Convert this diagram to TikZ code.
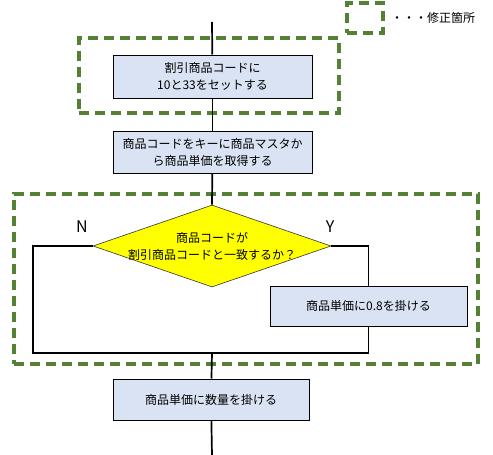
\documentclass[tikz,border=0pt]{standalone}
\usepackage{fontspec}
\setmainfont{Noto Sans CJK JP}
\usetikzlibrary{positioning,shapes.geometric}
\definecolor{procfill}{HTML}{DAE3F3}
\definecolor{fixgreen}{HTML}{548235}
\definecolor{decfill}{HTML}{FFFF00}
\tikzset{
  procbox/.style={
    draw=black,
    fill=procfill,
    line width=1pt,
    align=center,
    minimum width=199pt,
    minimum height=43pt,
    inner sep=2pt,
    font=\fontsize{12}{17}\selectfont
  },
  decbox/.style={
    diamond,
    draw=black!80,
    fill=decfill,
    line width=0.6pt,
    minimum width=238pt,
    minimum height=82pt,
    inner sep=0pt
  },
  dectext/.style={align=center, inner sep=0pt, font=\fontsize{12}{17}\selectfont},
  fixframe/.style={
    draw=fixgreen,
    line width=3.2pt,
    dash pattern=on 10pt off 6pt
  },
  flowline/.style={line width=1.7pt, draw=black},
  branchlabel/.style={font=\fontsize{16}{18}\selectfont}
}
\begin{document}
\begin{tikzpicture}[x=1pt, y=1pt]
  \useasboundingbox (0,0) rectangle (493,-455);
  % legend
  \node[fixframe, minimum width=36pt, minimum height=30pt] (legendbox) at (365,-18) {};
  \node[anchor=west, inner sep=0pt, font=\fontsize{12}{14}\selectfont] (legendtext) at (391,-18) {・・・修正箇所};
  % modified parts
  \node[fixframe, minimum width=260pt, minimum height=75pt] (fixtop) at (209,-75.5) {};
  \node[fixframe, minimum width=464pt, minimum height=170pt] (fixmid) at (246,-279) {};
  % steps
  \coordinate (start) at (212,-22);
  \node[procbox] (setcode) at (212.5,-76.5) {割引商品コードに\\10と33をセットする};
  \node[procbox, minimum height=42pt] (getprice) at (212.5,-152) {商品コードをキーに商品マスタか\\ら商品単価を取得する};
  \node[decbox] (match) at (212,-246) {};
  \node[dectext] (matchtext) at (match.center) {商品コードが\\割引商品コードと一致するか？};
  \node[procbox, minimum width=197pt, minimum height=40pt] (discount) at (368.5,-306) {商品単価に0.8を掛ける};
  \node[procbox, minimum width=196pt, minimum height=41pt] (amount) at (211,-399.5) {商品単価に数量を掛ける};
  \coordinate (join) at (212,-353);
  \coordinate (stop) at (212,-455);
  \node[branchlabel] (nlabel) at (82,-227) {N};
  \node[branchlabel] (ylabel) at (330,-227) {Y};
  % connectors
  \draw[flowline] (start) -- (setcode);
  \draw[flowline] (setcode) -- (getprice);
  \draw[flowline] (getprice) -- (match.north);
  \draw[flowline] (match.west) -- ++(-60,0) |- (join);
  \draw[flowline] (match.east) -| (discount.north);
  \draw[flowline] (discount.south) |- (join);
  \draw[flowline] (join) -- (amount);
  \draw[flowline] (amount) -- (stop);
\end{tikzpicture}
\end{document}
